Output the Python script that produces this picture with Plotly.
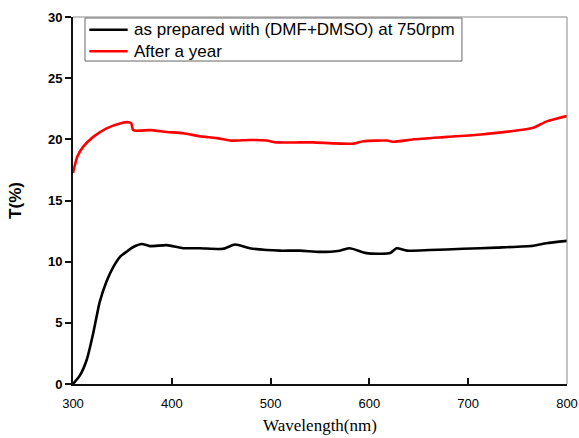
import plotly.graph_objects as go

wl_black = [300, 307, 314, 320.6, 327, 334, 341, 347.6, 354, 361, 369.5, 378, 395, 411.6, 428.5, 452, 464, 479, 496, 509.5, 530, 550, 570, 580, 597, 621, 627.6, 638, 661, 695, 729, 766, 779, 800]
t_black = [0, 0.7, 2.0, 4.2, 6.7, 8.4, 9.6, 10.4, 10.8, 11.2, 11.45, 11.27, 11.35, 11.1, 11.1, 11.05, 11.4, 11.1, 10.95, 10.9, 10.9, 10.8, 10.9, 11.1, 10.7, 10.7, 11.1, 10.9, 10.95, 11.05, 11.15, 11.3, 11.5, 11.7]

wl_red = [300, 304.4, 310.4, 320.5, 334, 347.6, 356, 359, 361, 378, 395, 411.6, 428.5, 445.4, 459, 479, 496, 506, 530, 543, 584, 594, 618, 624.6, 645, 679, 713, 747, 766, 779, 790, 800]
t_red = [17.25, 18.6, 19.4, 20.2, 20.9, 21.3, 21.4, 21.3, 20.75, 20.75, 20.6, 20.5, 20.25, 20.1, 19.9, 19.95, 19.9, 19.75, 19.75, 19.75, 19.65, 19.85, 19.9, 19.8, 20.0, 20.2, 20.4, 20.7, 20.95, 21.45, 21.7, 21.9]

names = ["as prepared with (DMF+DMSO) at 750rpm", "After a year"]
colors = ["black", "#ff0000"]
x_ticks = [300, 400, 500, 600, 700, 800]
y_ticks = [0, 5, 10, 15, 20, 25, 30]

fig = go.Figure()
fig.add_trace(go.Scatter(x=wl_black, y=t_black, mode="lines", name=names[0], showlegend=False,
                         line=dict(color=colors[0], width=2.6, shape="spline", smoothing=0.6)))
fig.add_trace(go.Scatter(x=wl_red, y=t_red, mode="lines", name=names[1], showlegend=False,
                         line=dict(color=colors[1], width=2.6, shape="spline", smoothing=0.6)))

fig.update_layout(
    width=579, height=438, autosize=False,
    margin=dict(l=73, r=12, t=17, b=54, pad=0, autoexpand=False),
    paper_bgcolor="white", plot_bgcolor="white",
    showlegend=False,
    xaxis=dict(range=[300, 800], tickvals=x_ticks, automargin=False,
               showgrid=False, zeroline=False, showline=True, linecolor="#111111", linewidth=2,
               ticks="inside", ticklen=6, tickwidth=1.5, tickcolor="#111111", ticklabelstandoff=6,
               tickfont=dict(family="Arial, Liberation Sans", size=13, color="black"),
               title=dict(text="Wavelength(nm)", font=dict(family="Liberation Serif, Times New Roman", size=17, color="black"), standoff=10)),
    yaxis=dict(range=[0, 30], tickvals=y_ticks, automargin=False,
               showgrid=False, zeroline=False, showline=True, linecolor="#111111", linewidth=2,
               ticks="outside", ticklen=6, tickwidth=1.5, tickcolor="#111111",
               tickfont=dict(family="Arial, Liberation Sans", size=13, color="black", weight="bold"),
               title=dict(text="<b>T(%)</b>", font=dict(family="Arial, Liberation Sans", size=17, color="black"), standoff=22)),
)
# plot frame (top/right)
fig.add_shape(type="line", xref="paper", yref="paper", x0=0, x1=1, y0=1, y1=1, line=dict(color="#888888", width=1))
fig.add_shape(type="line", xref="paper", yref="paper", x0=1, x1=1, y0=0, y1=1, line=dict(color="#888888", width=1))

# legend box drawn as layout decoration
fig.add_shape(type="rect", xref="paper", yref="paper", x0=0.0243, x1=0.7874, y0=0.880, y1=0.9973,
              line=dict(color="#666666", width=1), fillcolor="white", layer="below")
leg_y = [0.9654, 0.9065]
for name, col, yy in zip(names, colors, leg_y):
    fig.add_shape(type="line", xref="paper", yref="paper", x0=0.033, x1=0.1107, y0=yy, y1=yy,
                  line=dict(color=col, width=2.6))
    fig.add_annotation(xref="paper", yref="paper", x=0.119, y=yy, xanchor="left", yanchor="middle",
                       text=name, showarrow=False,
                       font=dict(family="Arial, Liberation Sans", size=17, color="black"))

fig.write_html("out.html", config={"responsive": False, "displayModeBar": False},
               post_script="document.body.style.margin='0';document.documentElement.style.overflow='hidden';")
